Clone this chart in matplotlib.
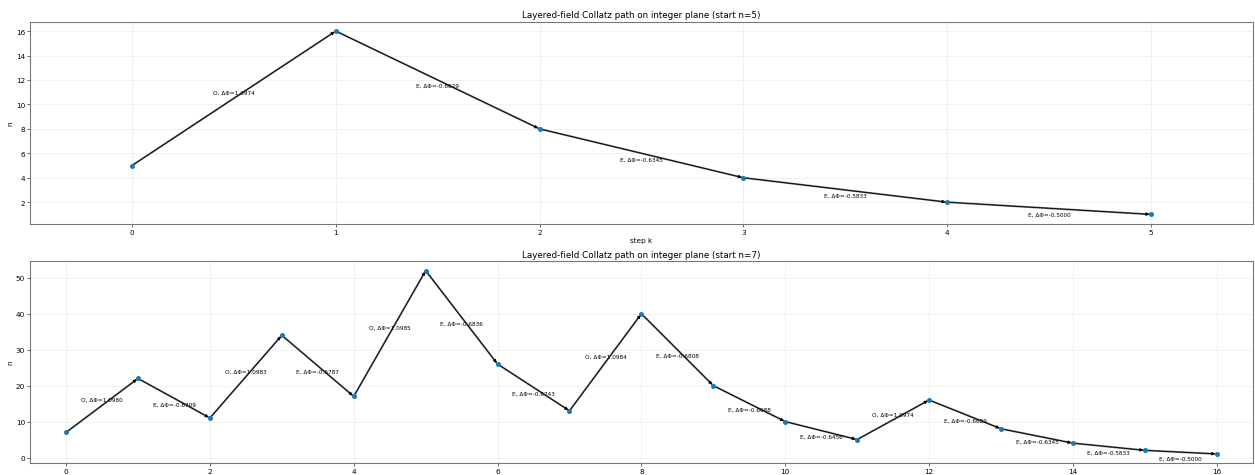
import matplotlib
matplotlib.use("Agg")
import matplotlib.pyplot as plt

# Collatz paths
path_a = [5, 16, 8, 4, 2, 1]
dphi_a = [1.0974, -0.6629, -0.6345, -0.5833, -0.5000]

path_b = [7, 22, 11, 34, 17, 52, 26, 13, 40, 20, 10, 5, 16, 8, 4, 2, 1]
dphi_b = [1.0980, -0.6709, 1.0983, -0.6787, 1.0985, -0.6836, -0.6743, 1.0984,
          -0.6808, -0.6688, -0.6456, 1.0974, -0.6629, -0.6345, -0.5833, -0.5000]


def draw_path(ax, path, dphi, xlabel=True):
    ks = list(range(len(path)))
    ax.plot(ks, path, "-", color="#4a5a66", lw=2.6, alpha=0.8, zorder=1)
    ax.scatter(ks, path, color="C0", s=34, zorder=3)
    for k in range(len(path) - 1):
        n0, n1 = path[k], path[k + 1]
        ax.annotate("", xy=(k + 1, n1), xytext=(k, n0),
                    arrowprops=dict(arrowstyle="-|>", color="black", lw=1.2,
                                    mutation_scale=9), zorder=2)
        odd = n0 % 2 == 1
        tag = "O" if odd else "E"
        ax.annotate(f"{tag}, ΔΦ={dphi[k]:.4f}", xy=(k + 0.5, (n0 + n1) / 2),
                    xytext=(0, 8 if odd else -8), textcoords="offset points",
                    ha="center", va="center", fontsize=8)
    ax.set_xlim(-0.5, len(path) - 0.5)
    ax.set_title(f"Layered-field Collatz path on integer plane (start n={path[0]})")
    ax.set_ylabel("n")
    if xlabel:
        ax.set_xlabel("step k")
    ax.grid(True, alpha=0.3)
    for sp in ax.spines.values():
        sp.set_edgecolor("#777777")
        sp.set_linewidth(1.5)


fig, (ax1, ax2) = plt.subplots(2, 1, figsize=(24, 9.1))
draw_path(ax1, path_a, dphi_a)
draw_path(ax2, path_b, dphi_b, xlabel=False)
fig.subplots_adjust(left=0.024, right=0.998, top=0.952, bottom=0.025, hspace=0.188)
fig.savefig("out.png", dpi=52.3)
